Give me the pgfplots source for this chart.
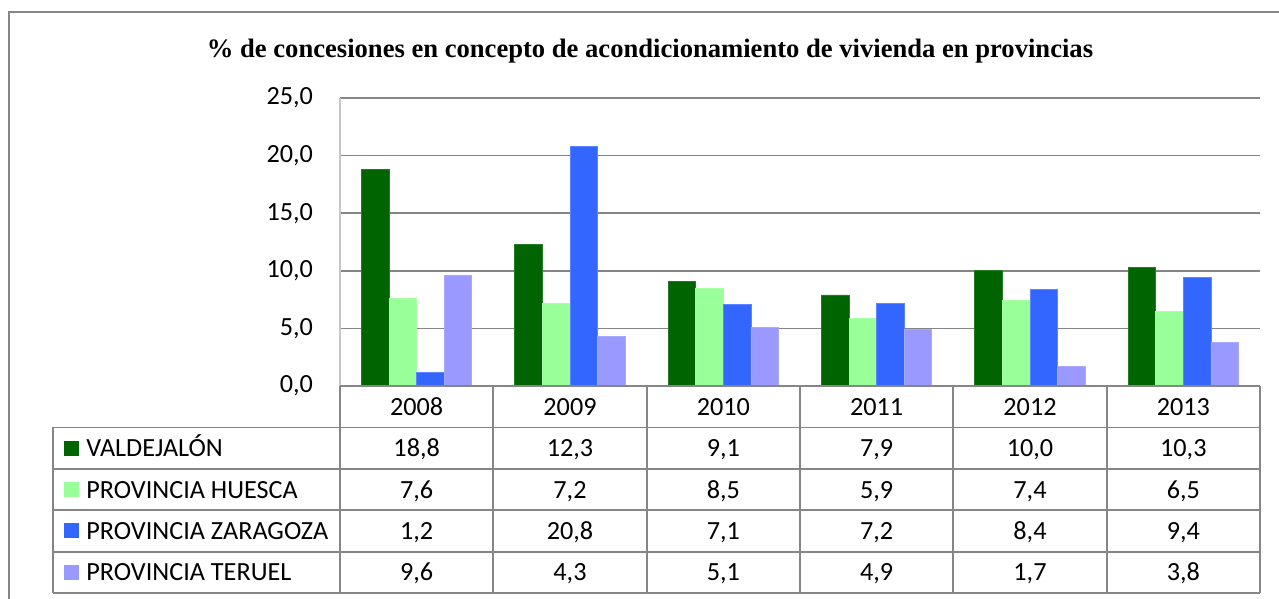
\documentclass[border=0pt]{standalone}
\usepackage{pgfplots}
\pgfplotsset{compat=1.18}
\usepackage{pgfplotstable}
\usepackage{fontspec}
\setmainfont{Carlito}
\newfontfamily\titlefont{Liberation Serif}
\definecolor{cvald}{RGB}{0,100,0}
\definecolor{chues}{RGB}{153,255,153}
\definecolor{czar}{RGB}{51,102,255}
\definecolor{cter}{RGB}{153,153,255}
\definecolor{linegray}{RGB}{134,134,134}

% one row per year: Valdejalon, Huesca, Zaragoza, Teruel
\pgfplotstableread{
x year val hue zar ter
0 2008 18.8 7.6 1.2 9.6
1 2009 12.3 7.2 20.8 4.3
2 2010 9.1 8.5 7.1 5.1
3 2011 7.9 5.9 7.2 4.9
4 2012 10.0 7.4 8.4 1.7
5 2013 10.3 6.5 9.4 3.8
}\datatable

\newcommand{\bodyfont}{\fontsize{13.1}{15}\selectfont}

\begin{document}
\begin{tikzpicture}[x=0.5pt,y=-0.5pt]
\useasboundingbox (0,0) rectangle (1279,599);
% outer chart frame (only top and left visible)
\draw[linegray, line width=1pt] (9,599) -- (9,12) -- (1279,12);
\node[font=\titlefont\bfseries\fontsize{13.3}{16}\selectfont, anchor=base, inner sep=0]
  at (650,58) {\% de concesiones en concepto de acondicionamiento de vivienda en provincias};

\coordinate (AO) at (340,386);
\begin{axis}[
  at={(AO)}, anchor=south west, scale only axis,
  width=460pt, height=144pt,
  xmin=-0.5, xmax=5.5, ymin=0, ymax=25,
  xtick=\empty, ytick={0,5,...,25},
  axis x line=none, axis y line*=left,
  y axis line style={gray!45, line width=0.75pt, -},
  major tick length=0pt,
  ymajorgrids, grid style={linegray, line width=0.8pt},
  yticklabel style={font=\bodyfont, xshift=-10pt,
    /pgf/number format/.cd, use comma, fixed, fixed zerofill, precision=1, assume math mode=true},
  ybar, bar width=0.18,
]
\addplot[fill=cvald, draw=cvald!85!white, line width=0.4pt, bar shift=-0.27] table[x=x,y=val]{\datatable};
\addplot[fill=chues, draw=chues!85!white, line width=0.4pt, bar shift=-0.09] table[x=x,y=hue]{\datatable};
\addplot[fill=czar, draw=czar!80!white, line width=0.4pt, bar shift=0.09] table[x=x,y=zar]{\datatable};
\addplot[fill=cter, draw=cter!85!white, line width=0.4pt, bar shift=0.27] table[x=x,y=ter]{\datatable};
\end{axis}

% data table below the plot
\begin{scope}[linegray, line width=0.9pt]
\draw (340,386) -- (1260,386);
\foreach \r in {427.4,468.8,510.2,551.6,593} \draw (53,\r) -- (1260,\r);
\draw (53,427.4) -- (53,593);
\foreach \k in {0,...,6} \draw ({340+153.33*\k},386) -- ({340+153.33*\k},593);
\end{scope}

\foreach \k in {0,...,5} {
  \pgfplotstablegetelem{\k}{year}\of\datatable
  \node[font=\bodyfont, anchor=base, inner sep=0] at ({340+153.33*(\k+0.5)},415) {\pgfplotsretval};
}

\foreach \col/\row/\name/\clr in {val/0/VALDEJALÓN/cvald, hue/1/PROVINCIA HUESCA/chues, zar/2/PROVINCIA ZARAGOZA/czar, ter/3/PROVINCIA TERUEL/cter} {
  \pgfmathsetmacro{\cy}{448.1+41.4*\row}
  \fill[\clr] (64,\cy-7.5) rectangle (79,\cy+7.5);
  \node[font=\bodyfont, anchor=base west, inner sep=0] at (86,\cy+8.5) {\name};
  \foreach \k in {0,...,5} {
    \pgfplotstablegetelem{\k}{\col}\of\datatable
    \node[font=\bodyfont, anchor=base, inner sep=0] at ({340+153.33*(\k+0.5)},\cy+8.5)
      {\pgfmathprintnumber[use comma, fixed, fixed zerofill, precision=1, assume math mode=true]{\pgfplotsretval}};
  }
}
\end{tikzpicture}
\end{document}
